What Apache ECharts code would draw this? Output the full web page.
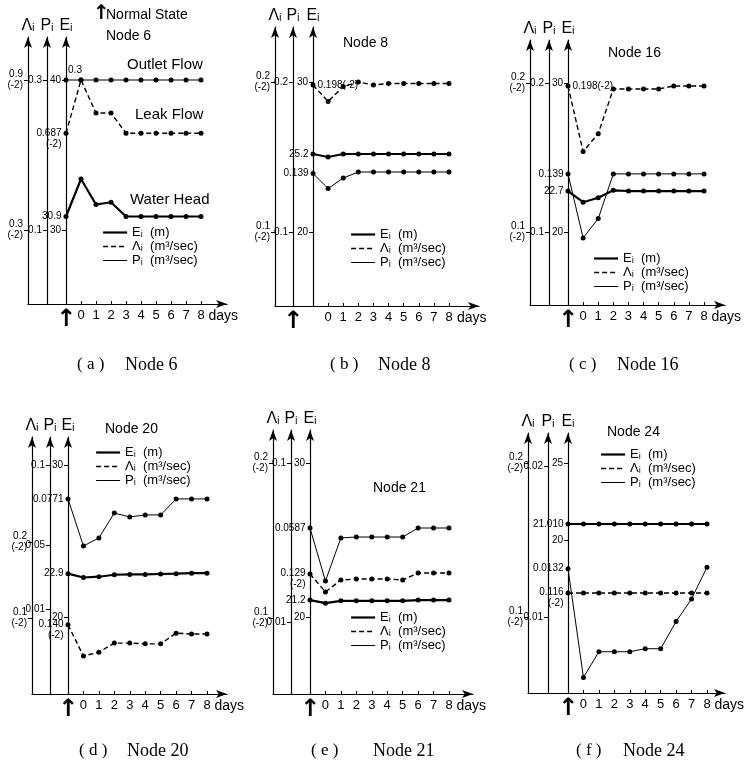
<!DOCTYPE html>
<html><head><meta charset="utf-8">
<script src="https://cdn.jsdelivr.net/npm/echarts@6/dist/echarts.min.js"></script>
<style>html,body{margin:0;padding:0;background:#fff}#c{width:746px;height:767px}</style>
</head><body><div id="c"></div>
<script>
// ---------------- DATA ----------------
const days = [-1, 0, 1, 2, 3, 4, 5, 6, 7, 8];   // -1 = normal state (on the Ei axis)
const dayTicks = [0, 1, 2, 3, 4, 5, 6, 7, 8];
const seriesNames = ['Eᵢ  (m)', 'Λᵢ  (m³/sec)', 'Pᵢ  (m³/sec)'];

// Node 6
const node6E = [30.9, 33.4, 31.7, 31.85, 30.9, 30.9, 30.9, 30.9, 30.9, 30.9];
const node6L = [0.687, 0.9, 0.768, 0.768, 0.687, 0.687, 0.687, 0.687, 0.687, 0.687];
const node6P = [0.3, 0.3, 0.3, 0.3, 0.3, 0.3, 0.3, 0.3, 0.3, 0.3];
const node6Eticks = [40, 30];
const node6Lticks = [0.9, 0.3];
const node6Pticks = [0.3, 0.1];
const node6StartLabels = ['30.9', '0.687\n(-2)', '0.3'];

// Node 8
const node8E = [25.2, 25.0, 25.2, 25.2, 25.2, 25.2, 25.2, 25.2, 25.2, 25.2];
const node8L = [0.198, 0.187, 0.197, 0.2, 0.198, 0.199, 0.199, 0.199, 0.199, 0.199];
const node8P = [0.139, 0.129, 0.136, 0.140, 0.140, 0.140, 0.140, 0.140, 0.140, 0.140];
const node8Eticks = [30, 20];
const node8Lticks = [0.2, 0.1];
const node8Pticks = [0.2, 0.1];
const node8StartLabels = ['25.2', '0.198(-2)', '0.139'];

// Node 16
const node16E = [22.75, 22.0, 22.3, 22.8, 22.75, 22.75, 22.75, 22.75, 22.75, 22.75];
const node16L = [0.198, 0.154, 0.166, 0.196, 0.196, 0.196, 0.196, 0.198, 0.198, 0.198];
const node16P = [0.139, 0.096, 0.109, 0.139, 0.139, 0.139, 0.139, 0.139, 0.139, 0.139];
const node16Eticks = [30, 20];
const node16Lticks = [0.2, 0.1];
const node16Pticks = [0.2, 0.1];
const node16StartLabels = ['22.7', '0.198(-2)', '0.139'];

// Node 20
const node20E = [22.85, 22.6, 22.65, 22.78, 22.8, 22.8, 22.83, 22.85, 22.88, 22.88];
const node20L = [0.091, 0.05, 0.055, 0.067, 0.067, 0.066, 0.066, 0.08, 0.079, 0.079];
const node20P = [0.0788, 0.0494, 0.0544, 0.070, 0.0675, 0.0688, 0.0688, 0.0788, 0.0788, 0.0788];
const node20Eticks = [30, 20];
const node20Lticks = [0.2, 0.1];
const node20Pticks = [0.1, 0.05, 0.01];
const node20StartLabels = ['22.9', '0.140\n(-2)', '0.0771'];

// Node 21
const node21E = [21.1, 20.9, 21.05, 21.05, 21.05, 21.05, 21.05, 21.1, 21.1, 21.1];
const node21L = [0.1284, 0.1168, 0.1245, 0.1252, 0.1252, 0.1252, 0.1245, 0.129, 0.129, 0.129];
const node21P = [0.0632, 0.0332, 0.0576, 0.0581, 0.0581, 0.0581, 0.0581, 0.0632, 0.0632, 0.0632];
const node21Eticks = [30, 20];
const node21Lticks = [0.2, 0.1];
const node21Pticks = [0.1, 0.01];
const node21StartLabels = ['21.2', '0.129\n(-2)', '0.0587'];

// Node 24
const node24E = [21.04, 21.04, 21.04, 21.04, 21.04, 21.04, 21.04, 21.04, 21.04, 21.04];
const node24L = [0.1156, 0.1156, 0.1156, 0.1156, 0.1156, 0.1156, 0.1156, 0.1156, 0.1156, 0.1156];
const node24P = [0.0132, 0.0060, 0.0077, 0.0077, 0.0077, 0.0079, 0.0079, 0.0097, 0.0112, 0.0133];
const node24Eticks = [25, 20];
const node24Lticks = [0.2, 0.1];
const node24Pticks = [0.02, 0.01];
const node24StartLabels = ['21.010', '0.116\n(-2)', '0.0132'];

const panelTitles = ['Node 6', 'Node 8', 'Node 16', 'Node 20', 'Node 21', 'Node 24'];
const captionLetters = ['( a )', '( b )', '( c )', '( d )', '( e )', '( f )'];
const captionNames = ['Node 6', 'Node 8', 'Node 16', 'Node 20', 'Node 21', 'Node 24'];

// ---------------- LAYOUT ----------------
const FF = '"Liberation Sans", Arial, sans-serif';
const SERIF = '"Liberation Serif", "DejaVu Serif", serif';

const panels = [
  {E: node6E, L: node6L, P: node6P, Et: node6Eticks, Lt: node6Lticks, Pt: node6Pticks, lbl: node6StartLabels,
   lay: {xL: 28, xP: 47, xE: 66, x8: 201, xR: 227, top: 37, bottom: 304, arrowAt: 'xE',
         Ey: [80, 230], Ly: [80, 230], Py: [80, 230], legend: [97, 220]},
   lblPos: ['left', 'left', 'top']},
  {E: node8E, L: node8L, P: node8P, Et: node8Eticks, Lt: node8Lticks, Pt: node8Pticks, lbl: node8StartLabels,
   lay: {xL: 275, xP: 293, xE: 313, x8: 449, xR: 479, top: 27, bottom: 306, arrowAt: 'xP',
         Ey: [82, 232], Ly: [82, 232], Py: [82, 232], legend: [345, 222]},
   lblPos: ['left', 'right', 'left']},
  {E: node16E, L: node16L, P: node16P, Et: node16Eticks, Lt: node16Lticks, Pt: node16Pticks, lbl: node16StartLabels,
   lay: {xL: 530, xP: 549, xE: 568, x8: 704, xR: 725, top: 40, bottom: 305, arrowAt: 'xE',
         Ey: [83, 232], Ly: [83, 232], Py: [83, 232], legend: [588, 246]},
   lblPos: ['left', 'right', 'left']},
  {E: node20E, L: node20L, P: node20P, Et: node20Eticks, Lt: node20Lticks, Pt: node20Pticks, lbl: node20StartLabels,
   lay: {xL: 32, xP: 50, xE: 68, x8: 207, xR: 227, top: 437, bottom: 694, arrowAt: 'xE',
         Ey: [465, 617], Ly: [542, 618], Py: [465, 546, 609], legend: [90, 440]},
   lblPos: ['left', 'left', 'left']},
  {E: node21E, L: node21L, P: node21P, Et: node21Eticks, Lt: node21Lticks, Pt: node21Pticks, lbl: node21StartLabels,
   lay: {xL: 273, xP: 291, xE: 310, x8: 449, xR: 473, top: 430, bottom: 694, arrowAt: 'xE',
         Ey: [463, 617], Ly: [463, 618], Py: [463, 622], legend: [345, 605]},
   lblPos: ['left', 'left', 'left']},
  {E: node24E, L: node24L, P: node24P, Et: node24Eticks, Lt: node24Lticks, Pt: node24Pticks, lbl: node24StartLabels,
   lay: {xL: 528, xP: 548, xE: 568, x8: 707, xR: 725, top: 433, bottom: 693, arrowAt: 'xE',
         Ey: [463, 540], Ly: [463, 617], Py: [466, 617], legend: [595, 442]},
   lblPos: ['left', 'left', 'left']}
];

function yRange(vals, ys, top, bottom) {
  const n = vals.length - 1;
  const k = (vals[0] - vals[n]) / (ys[n] - ys[0]);
  return {min: vals[0] - (bottom - ys[0]) * k, max: vals[0] + (ys[0] - top) * k};
}

const grids = [], xAxes = [], yAxes = [], series = [], legends = [];
const black = '#000';
const lineStyles = [
  {width: 2.2, type: 'solid'},
  {width: 1.4, type: [5, 3]},
  {width: 1, type: 'solid'}
];

panels.forEach((p, g) => {
  const a = p.lay;
  const ppd = (a.x8 - a.xE) / 9;
  const xmin = -1 - (a.xE - a.xL) / ppd;
  const xmax = xmin + (a.xR - a.xL) / ppd;
  const arrowX = -1 - (a.xE - a[a.arrowAt]) / ppd;
  grids.push({left: a.xL, top: a.top, width: a.xR - a.xL, height: a.bottom - a.top, containLabel: false});
  xAxes.push({
    type: 'value', gridIndex: g, min: xmin, max: xmax,
    axisLine: {onZero: false, symbol: ['none', 'arrow'], symbolSize: [6, 11], lineStyle: {color: black, width: 1.2}},
    axisTick: {show: true, inside: true, length: 3, customValues: dayTicks, lineStyle: {color: black}},
    axisLabel: {customValues: [arrowX].concat(dayTicks), color: black, fontSize: 13, margin: 5, fontFamily: FF,
      formatter: v => v < -0.5 ? '{ar|↑}' : String(Math.round(v)),
      rich: {ar: {fontSize: 24, fontWeight: 'bold', fontFamily: '"DejaVu Sans"', color: black, lineHeight: 22}}},
    splitLine: {show: false},
    name: 'days', nameLocation: 'end', nameGap: -22,
    nameTextStyle: {color: black, fontSize: 14, fontFamily: FF, verticalAlign: 'top', padding: [5, 0, 0, 0]}
  });
  const defs = [
    ['xL', p.Lt, a.Ly, 'Λᵢ', v => v + '\n(-2)', true],
    ['xP', p.Pt, a.Py, 'Pᵢ', v => String(v), false],
    ['xE', p.Et, a.Ey, 'Eᵢ', v => String(v), false]
  ];
  defs.forEach(d => {
    const r = yRange(d[1], d[2], a.top, a.bottom);
    yAxes.push({
      type: 'value', gridIndex: g, position: 'left', offset: -(a[d[0]] - a.xL),
      min: r.min, max: r.max,
      axisLine: {show: true, onZero: false, symbol: ['none', 'arrow'], symbolSize: [6, 11], lineStyle: {color: black, width: 1.2}},
      axisTick: {show: true, length: 4, customValues: d[1], lineStyle: {color: black}},
      axisLabel: {customValues: d[1], formatter: d[4], color: black, fontSize: 10, margin: 5, fontFamily: FF,
        lineHeight: 11, padding: d[5] ? [11, 0, 0, 0] : 0},
      splitLine: {show: false},
      name: d[3], nameLocation: 'end', nameGap: 3,
      nameTextStyle: {color: black, fontSize: 16, fontFamily: FF}
    });
  });
  const sets = [[p.E, 3 * g + 2], [p.L, 3 * g], [p.P, 3 * g + 1]];
  sets.forEach((s, k) => {
    const lbl = p.lbl[k];
    const pos = p.lblPos[k];
    const twoLine = lbl.indexOf('\n') >= 0;
    const data = days.map((d, i) => {
      if (i !== 0) return [d, s[0][i]];
      return {value: [d, s[0][i]], label: {show: true, formatter: lbl, position: pos, distance: 2,
        fontSize: 10, color: black, fontFamily: FF, lineHeight: 11,
        offset: twoLine ? [0, 5] : (pos === 'top' ? [9, 0] : [0, 0])}};
    });
    series.push({
      type: 'line', name: seriesNames[k], xAxisIndex: g, yAxisIndex: s[1], data: data,
      symbol: 'circle', symbolSize: 5, itemStyle: {color: black},
      lineStyle: Object.assign({color: black}, lineStyles[k]),
      emphasis: {disabled: true}, animation: false, z: 3
    });
  });
  legends.push({
    data: seriesNames.map((n, k) => ({name: n, lineStyle: Object.assign({color: black}, lineStyles[k]), itemStyle: {opacity: 0}})),
    orient: 'vertical', left: a.legend[0], top: a.legend[1],
    itemWidth: 24, itemHeight: 8, itemGap: -1, selectedMode: false,
    itemStyle: {opacity: 0},
    textStyle: {fontSize: 13, color: black, fontFamily: FF, lineHeight: 15}
  });
});

function txt(x, y, text, size, family, weight) {
  return {type: 'text', x: x, y: y,
    style: {text: text, fontSize: size, fontFamily: family, fontWeight: weight || 'normal', fill: black,
      align: 'left', verticalAlign: 'middle', textAlign: 'left', textVerticalAlign: 'middle'}};
}
const titlePos = [[106, 36], [343, 43], [608, 53], [105, 429], [373, 488], [607, 432]];
const letterPos = [[77, 365], [330, 365], [569, 365], [79, 751], [311, 751], [576, 751]];
const namePos = [[125, 365], [378, 365], [617, 365], [127, 751], [373, 751], [623, 751]];
const graphics = [];
panelTitles.forEach((t, i) => graphics.push(txt(titlePos[i][0], titlePos[i][1], t, 14, FF)));
captionLetters.forEach((t, i) => graphics.push(txt(letterPos[i][0], letterPos[i][1], t, 17, SERIF)));
captionNames.forEach((t, i) => graphics.push(txt(namePos[i][0], namePos[i][1], t, 18, SERIF)));
graphics.push(txt(93, 14, '↑', 20, '"DejaVu Sans"', 'bold'));
graphics.push(txt(106, 15, 'Normal State', 14, FF));
graphics.push(txt(127, 65, 'Outlet Flow', 15, FF));
graphics.push(txt(135, 115, 'Leak Flow', 15, FF));
graphics.push(txt(130, 200, 'Water Head', 15, FF));

const chart = echarts.init(document.getElementById('c'), null, {renderer: 'canvas'});
chart.setOption({
  animation: false,
  backgroundColor: '#fff',
  grid: grids, xAxis: xAxes, yAxis: yAxes, series: series, legend: legends,
  graphic: {elements: graphics}
});
</script>
</body></html>
